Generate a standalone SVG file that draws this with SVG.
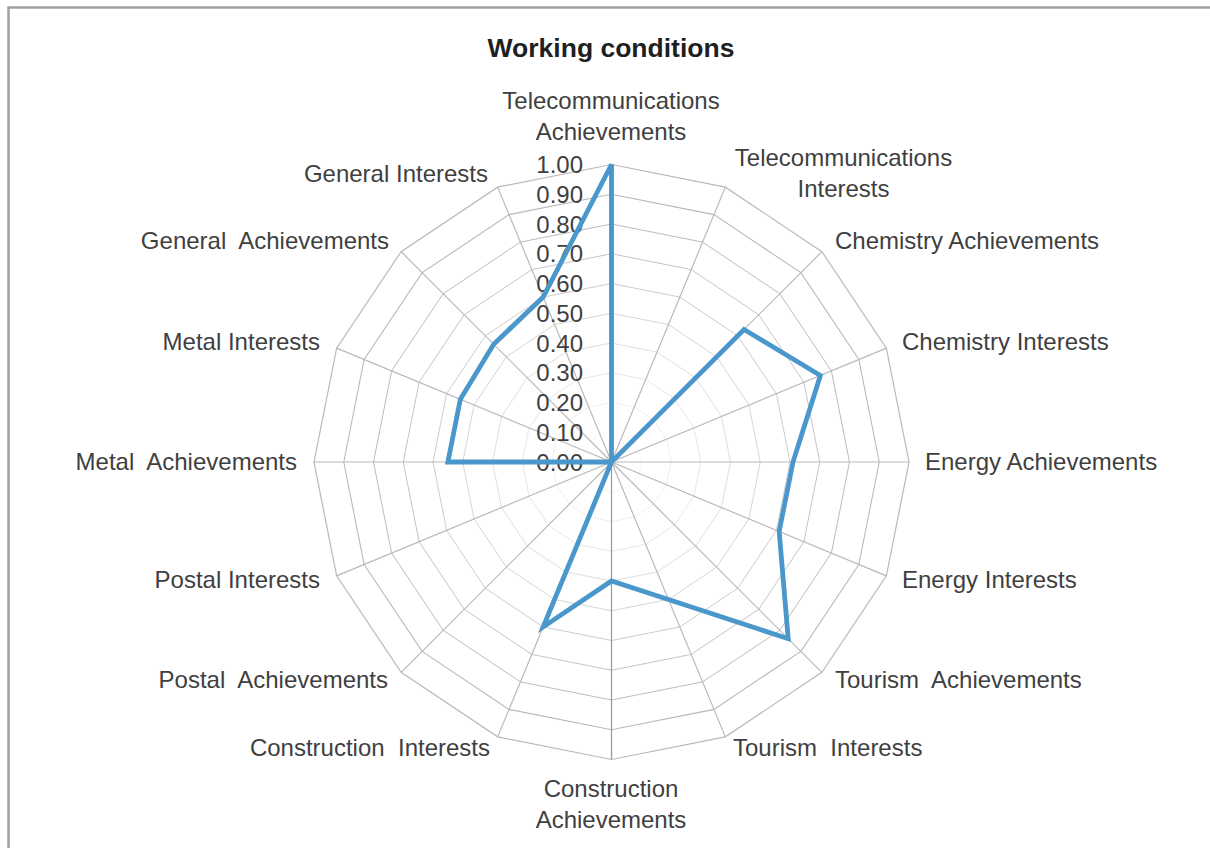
<svg xmlns="http://www.w3.org/2000/svg" xmlns:xlink="http://www.w3.org/1999/xlink" width="1210" height="848" viewBox="0 0 1210 848">
<style>
.lbl{font-family:"Liberation Sans",Arial,sans-serif;font-size:24px;fill:#3f3f3f;white-space:pre}
.tick{font-family:"Liberation Sans",Arial,sans-serif;font-size:24px;fill:#3f3f3f;text-anchor:end}
.title{font-family:"Liberation Sans",Arial,sans-serif;font-size:26.5px;font-weight:bold;fill:#1f1f1f;text-anchor:middle}
.ring{fill:none;stroke:#b9b9b9;stroke-width:1.2;vector-effect:non-scaling-stroke}
.spoke{stroke:#b9b9b9;stroke-width:1.2}
.axis{stroke:#959ea8;stroke-width:1.3}
.series{fill:none;stroke:#4a97cb;stroke-width:4.8;stroke-linejoin:miter}
</style>
<defs>
<polygon id="ring" points="0,-297.5 113.85,-274.86 210.36,-210.36 274.86,-113.85 297.5,0 274.86,113.85 210.36,210.36 113.85,274.86 0,297.5 -113.85,274.86 -210.36,210.36 -274.86,113.85 -297.5,0 -274.86,-113.85 -210.36,-210.36 -113.85,-274.86"/>
</defs>
<rect x="0" y="0" width="1210" height="848" fill="#ffffff"/>
<rect x="8.5" y="7.5" width="1400" height="1000" fill="none" stroke="#a0a0a0" stroke-width="2.5"/>
<text class="title" x="611" y="57">Working conditions</text>
<g id="grid" transform="translate(611.5,462)">
<use xlink:href="#ring" class="ring" transform="scale(0.1)"/>
<use xlink:href="#ring" class="ring" transform="scale(0.2)"/>
<use xlink:href="#ring" class="ring" transform="scale(0.3)"/>
<use xlink:href="#ring" class="ring" transform="scale(0.4)"/>
<use xlink:href="#ring" class="ring" transform="scale(0.5)"/>
<use xlink:href="#ring" class="ring" transform="scale(0.6)"/>
<use xlink:href="#ring" class="ring" transform="scale(0.7)"/>
<use xlink:href="#ring" class="ring" transform="scale(0.8)"/>
<use xlink:href="#ring" class="ring" transform="scale(0.9)"/>
<use xlink:href="#ring" class="ring"/>
<line class="spoke" x1="0" y1="0" x2="113.85" y2="-274.86"/>
<line class="spoke" x1="0" y1="0" x2="210.36" y2="-210.36"/>
<line class="spoke" x1="0" y1="0" x2="274.86" y2="-113.85"/>
<line class="spoke" x1="0" y1="0" x2="297.5" y2="0"/>
<line class="spoke" x1="0" y1="0" x2="274.86" y2="113.85"/>
<line class="spoke" x1="0" y1="0" x2="210.36" y2="210.36"/>
<line class="spoke" x1="0" y1="0" x2="113.85" y2="274.86"/>
<line class="axis" x1="0" y1="0" x2="0" y2="297.5"/>
<line class="spoke" x1="0" y1="0" x2="-113.85" y2="274.86"/>
<line class="spoke" x1="0" y1="0" x2="-210.36" y2="210.36"/>
<line class="spoke" x1="0" y1="0" x2="-274.86" y2="113.85"/>
<line class="spoke" x1="0" y1="0" x2="-297.5" y2="0"/>
<line class="spoke" x1="0" y1="0" x2="-274.86" y2="-113.85"/>
<line class="spoke" x1="0" y1="0" x2="-210.36" y2="-210.36"/>
<line class="spoke" x1="0" y1="0" x2="-113.85" y2="-274.86"/>
<line class="axis" x1="0" y1="0" x2="0" y2="-297.5"/>
</g>
<g id="ticks">
<text class="tick" x="583" y="470.5">0.00</text>
<text class="tick" x="583" y="440.75">0.10</text>
<text class="tick" x="583" y="411">0.20</text>
<text class="tick" x="583" y="381.25">0.30</text>
<text class="tick" x="583" y="351.5">0.40</text>
<text class="tick" x="583" y="321.75">0.50</text>
<text class="tick" x="583" y="292">0.60</text>
<text class="tick" x="583" y="262.25">0.70</text>
<text class="tick" x="583" y="232.5">0.80</text>
<text class="tick" x="583" y="202.75">0.90</text>
<text class="tick" x="583" y="173">1.00</text>
</g>
<g id="series">
<polygon class="series" points="611.5,164.5 611.5,462 744.03,329.47 820.39,375.47 792.98,462 779.16,531.45 788.21,638.71 668.42,599.43 611.5,581 543.19,626.91 611.5,462 611.5,462 447.87,462 460.33,399.38 493.7,344.2 543.19,297.09"/>
</g>
<g id="label-telecom-ach"><text class="lbl" text-anchor="middle" x="611" y="109">Telecommunications</text><text class="lbl" text-anchor="middle" x="611" y="140">Achievements</text></g>
<g id="label-telecom-int"><text class="lbl" text-anchor="middle" x="843.5" y="166">Telecommunications</text><text class="lbl" text-anchor="middle" x="843.5" y="197">Interests</text></g>
<g id="label-chem-ach"><text class="lbl" x="835" y="249">Chemistry Achievements</text></g>
<g id="label-chem-int"><text class="lbl" x="902" y="350">Chemistry Interests</text></g>
<g id="label-energy-ach"><text class="lbl" x="925" y="470">Energy Achievements</text></g>
<g id="label-energy-int"><text class="lbl" x="902" y="588">Energy Interests</text></g>
<g id="label-tourism-ach"><text class="lbl" x="835" y="688">Tourism  Achievements</text></g>
<g id="label-tourism-int"><text class="lbl" x="733" y="756">Tourism  Interests</text></g>
<g id="label-constr-ach"><text class="lbl" text-anchor="middle" x="611" y="797">Construction</text><text class="lbl" text-anchor="middle" x="611" y="828">Achievements</text></g>
<g id="label-constr-int"><text class="lbl" text-anchor="end" x="490" y="756">Construction  Interests</text></g>
<g id="label-postal-ach"><text class="lbl" text-anchor="end" x="388" y="688">Postal  Achievements</text></g>
<g id="label-postal-int"><text class="lbl" text-anchor="end" x="320" y="588">Postal Interests</text></g>
<g id="label-metal-ach"><text class="lbl" text-anchor="end" x="297" y="470">Metal  Achievements</text></g>
<g id="label-metal-int"><text class="lbl" text-anchor="end" x="320" y="350">Metal Interests</text></g>
<g id="label-general-ach"><text class="lbl" text-anchor="end" x="389" y="249">General  Achievements</text></g>
<g id="label-general-int"><text class="lbl" text-anchor="end" x="488" y="182">General Interests</text></g>
</svg>
